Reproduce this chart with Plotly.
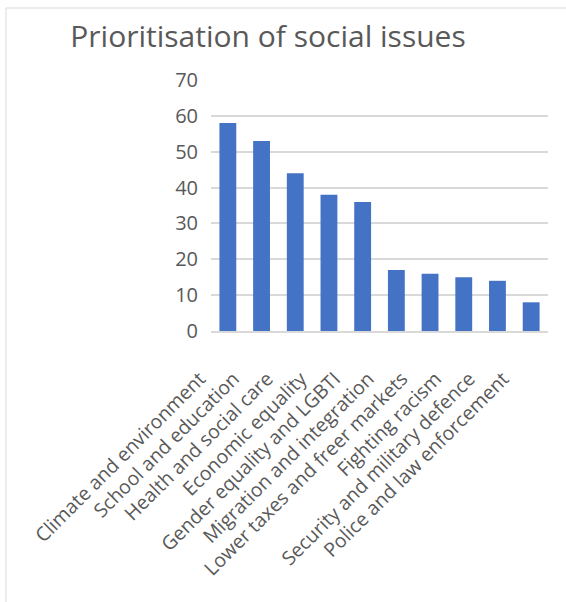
import plotly.graph_objects as go

categories = ["Climate and environment", "School and education", "Health and social care",
              "Economic equality", "Gender equality and LGBTI", "Migration and integration",
              "Lower taxes and freer markets", "Fighting racism", "Security and military defence",
              "Police and law enforcement"]
values = [58, 53, 44, 38, 36, 17, 16, 15, 14, 8]
y_ticks = [0, 10, 20, 30, 40, 50, 60, 70]

W, H = 566, 602
L, R, T, B = 211, 18, 80, 271
pw, ph = W - L - R, H - T - B

fig = go.Figure(go.Bar(x=categories, y=values, marker=dict(color="#4472C4", line=dict(width=0)),
                       hoverinfo="x+y"))

fig.update_layout(
    width=W, height=H,
    margin=dict(l=L, r=R, t=T, b=B, pad=0),
    paper_bgcolor="white", plot_bgcolor="white",
    bargap=0.5,
    showlegend=False,
    font=dict(family="Open Sans, Noto Sans, sans-serif", color="#595959"),
    title=dict(text="Prioritisation of social issues", x=268 / W, xanchor="center",
               y=1 - 36 / H, yanchor="middle",
               font=dict(size=30, color="#595959")),
    xaxis=dict(tickangle=-45, tickfont=dict(size=19.5, color="#595959"), showgrid=False,
               showline=True, linecolor="#D9D9D9", linewidth=1.5, ticks="", automargin=False,
               ticklabelshift=-28, ticklabelstandoff=27),
    yaxis=dict(range=[0, 70], tickvals=y_ticks, tickfont=dict(size=20, color="#595959"),
               showgrid=True, gridcolor="#D9D9D9", gridwidth=1.5, zeroline=False,
               showline=False, ticks="", ticklabelstandoff=12, automargin=False),
    shapes=[dict(type="rect", xref="paper", yref="paper",
                 x0=(6 - L) / pw, x1=(W + 10 - L) / pw,
                 y0=-(H + 10 - T - ph) / ph, y1=1 + (T - 8) / ph,
                 line=dict(color="#D9D9D9", width=1), layer="below")],
)

fig.write_html("out.html")
